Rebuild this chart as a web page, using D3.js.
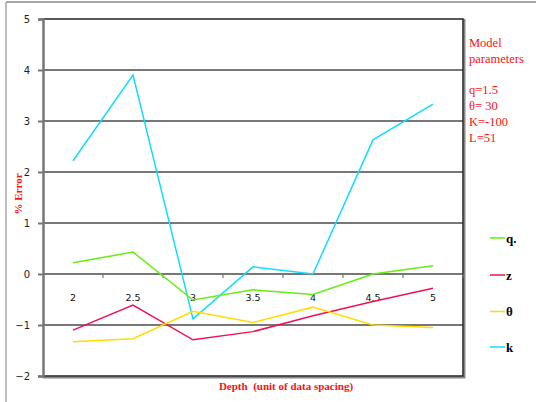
<!DOCTYPE html>
<html><head><meta charset="utf-8">
<script src="https://cdn.jsdelivr.net/npm/d3@7"></script>
<style>body{margin:0;background:#fff}svg{display:block}</style>
</head><body>
<svg id="c" width="536" height="402"></svg>
<script>
const depths = ["2","2.5","3","3.5","4","4.5","5"];
const seriesNames = ["q.","z","θ","k"];
const qVals = [0.22,0.43,-0.51,-0.31,-0.40,0.00,0.16];
const zVals = [-1.10,-0.61,-1.29,-1.13,-0.82,-0.54,-0.28];
const thetaVals = [-1.33,-1.27,-0.73,-0.95,-0.65,-1.00,-1.05];
const kVals = [2.22,3.90,-0.88,0.14,0.00,2.63,3.33];
const yTicks = [-2,-1,0,1,2,3,4,5];
const paramLines = ["Model","parameters","","q=1.5","θ= 30","K=-100","L=51"];
const colors = ["#66ee11","#ee1155","#ffdd00","#11ddff"];

const svg = d3.select("#c");
const L=43, R=463, T=19, B=376;
const x = d3.scaleBand().domain(depths).range([L,R]);
const y = d3.scaleLinear().domain([-2,5]).range([B,T]);

// outer frame
svg.append("line").attr("x1",6).attr("x2",536).attr("y1",2).attr("y2",2).attr("stroke","#888").attr("stroke-width",1.5);
svg.append("line").attr("x1",6).attr("x2",6).attr("y1",2).attr("y2",402).attr("stroke","#aaa").attr("stroke-width",1.5);

// gridlines
svg.append("g").selectAll("line").data(yTicks.filter(d=>d>-2&&d<5)).join("line")
  .attr("x1",L).attr("x2",R).attr("y1",d=>y(d)).attr("y2",d=>y(d))
  .attr("stroke","#777").attr("stroke-width",2);

// plot frame (shadow + black)
svg.append("path").attr("d",`M${L},${B+1.5}H${R+1.5}V${T}`).attr("fill","none").attr("stroke","#888").attr("stroke-width",2);
svg.append("path").attr("d",`M${L},${T}H${R}V${B}H${L}`).attr("fill","none").attr("stroke","#222").attr("stroke-width",1.5);

// y axis
const ya = d3.axisLeft(y).tickValues(yTicks).tickSize(5).tickPadding(8).tickFormat(d3.format("d"));
const yg = svg.append("g").attr("transform",`translate(${L},0)`).call(ya);
yg.select(".domain").attr("stroke","#777").attr("stroke-width",2.5);
yg.selectAll(".tick line").attr("stroke","#777").attr("stroke-width",2);
yg.selectAll("text").attr("font-family","DejaVu Sans, sans-serif").attr("font-size",10).attr("fill","#222");

// x axis ticks on zero line
const xb = depths.map(d=>x(d)).concat([R]);
svg.append("g").selectAll("line").data(xb.slice(1)).join("line")
  .attr("x1",d=>d).attr("x2",d=>d).attr("y1",y(0)).attr("y2",y(0)+4)
  .attr("stroke","#777").attr("stroke-width",1.2);
svg.append("g").selectAll("text").data(depths).join("text")
  .attr("x",d=>x(d)+x.bandwidth()/2).attr("y",y(0)+27)
  .attr("text-anchor","middle").attr("font-family","DejaVu Sans, sans-serif").attr("font-size",9.5).attr("fill","#111")
  .text(d=>d);

// lines
const all = [qVals,zVals,thetaVals,kVals];
const line = d3.line().x((d,i)=>x(depths[i])+x.bandwidth()/2).y(d=>y(d));
const order = [3,0,1,2];
order.forEach(i=>{
  svg.append("path").datum(all[i]).attr("d",line).attr("fill","none")
    .attr("stroke",colors[i]).attr("stroke-width",1.5);
});

// legend
const legY = [238,275,311.5,347];
const lg = svg.append("g");
seriesNames.forEach((n,i)=>{
  lg.append("line").attr("x1",490).attr("x2",505).attr("y1",legY[i]).attr("y2",legY[i]).attr("stroke",colors[i]).attr("stroke-width",1.5);
  lg.append("text").attr("x",506).attr("y",legY[i]+4.5).attr("font-family","Liberation Serif, serif").attr("font-weight","bold").attr("font-size",13).attr("fill","#000").text(n);
});

// model parameters
const pg = svg.append("text").attr("font-family","Liberation Serif, serif").attr("font-size",12.5).attr("fill","#ff1111");
paramLines.forEach((t,i)=>{
  pg.append("tspan").attr("x",469).attr("y",[47,63,79,94,110,126,142][i]).text(t);
});

// axis titles
svg.append("text").attr("transform","translate(22,194) rotate(-90)").attr("text-anchor","middle")
  .attr("font-family","Liberation Serif, serif").attr("font-weight","bold").attr("font-size",11).attr("fill","#ff1111").text("% Error");
svg.append("text").attr("x",286).attr("y",390).attr("text-anchor","middle").style("white-space","pre")
  .attr("font-family","Liberation Serif, serif").attr("font-weight","bold").attr("font-size",11).attr("fill","#ff1111").text("Depth  (unit of data spacing)");
</script>
</body></html>
